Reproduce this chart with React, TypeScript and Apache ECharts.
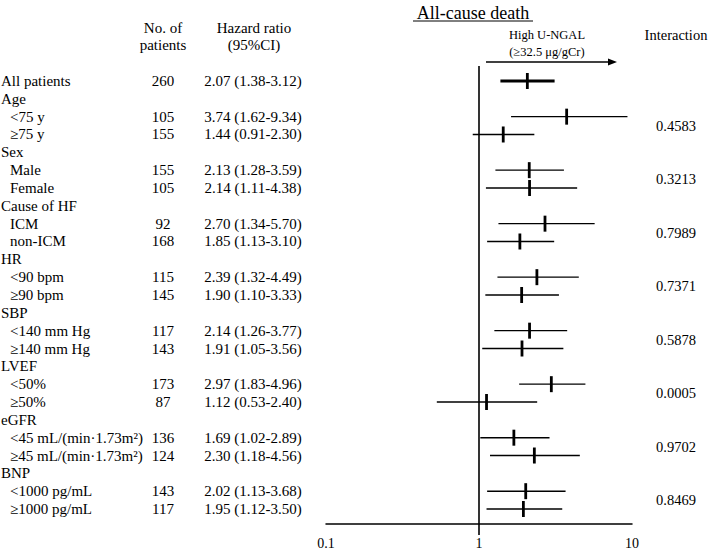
import React, { useEffect, useRef } from "react";
import * as echarts from "echarts";

const ROW_LABELS = [
  "All patients", "Age", "<75 y", "≥75 y", "Sex", "Male", "Female",
  "Cause of HF", "ICM", "non-ICM", "HR", "<90 bpm", "≥90 bpm",
  "SBP", "<140 mm Hg", "≥140 mm Hg", "LVEF", "<50%", "≥50%",
  "eGFR", "<45 mL/(min·1.73m²)", "≥45 mL/(min·1.73m²)",
  "BNP", "<1000 pg/mL", "≥1000 pg/mL",
];
const IS_SUB = [
  false, false, true, true, false, true, true, false, true, true, false, true, true,
  false, true, true, false, true, true, false, true, true, false, true, true,
];
const N_PATIENTS: (number | null)[] = [
  260, null, 105, 155, null, 155, 105, null, 92, 168, null, 115, 145,
  null, 117, 143, null, 173, 87, null, 136, 124, null, 143, 117,
];
const HR: (number | null)[] = [
  2.07, null, 3.74, 1.44, null, 2.13, 2.14, null, 2.70, 1.85, null, 2.39, 1.90,
  null, 2.14, 1.91, null, 2.97, 1.12, null, 1.69, 2.30, null, 2.02, 1.95,
];
const CI_LO: (number | null)[] = [
  1.38, null, 1.62, 0.91, null, 1.28, 1.11, null, 1.34, 1.13, null, 1.32, 1.10,
  null, 1.26, 1.05, null, 1.83, 0.53, null, 1.02, 1.18, null, 1.13, 1.12,
];
const CI_HI: (number | null)[] = [
  3.12, null, 9.34, 2.30, null, 3.59, 4.38, null, 5.70, 3.10, null, 4.49, 3.33,
  null, 3.77, 3.56, null, 4.96, 2.40, null, 2.89, 4.56, null, 3.68, 3.50,
];
const P_INTERACTION = ["0.4583", "0.3213", "0.7989", "0.7371", "0.5878", "0.0005", "0.9702", "0.8469"];
const P_FIRST_ROW = [2, 5, 8, 11, 14, 17, 20, 23];

const FONT = "'Liberation Serif', 'Times New Roman', Times, serif";

export default function App() {
  const ref = useRef<HTMLDivElement>(null);
  useEffect(() => {
    document.body.style.margin = "0";
    const chart = echarts.init(ref.current!, null, { renderer: "svg" });
    const yMin = -0.84;
    const yMax = 24.84;

    const rowRender = (params: any, api: any) => {
      const i = api.value(1) as number;
      const y = api.coord([1, i])[1];
      const children: any[] = [];
      children.push({
        type: "text",
        style: {
          text: ROW_LABELS[i], x: IS_SUB[i] ? 10 : 1, y,
          fill: "#000", fontSize: 15, fontFamily: FONT,
          align: "left", verticalAlign: "middle",
        },
      });
      const n = N_PATIENTS[i];
      if (n != null) {
        children.push({
          type: "text",
          style: {
            text: String(n), x: 163, y, fill: "#000", fontSize: 15,
            fontFamily: FONT, align: "center", verticalAlign: "middle",
          },
        });
      }
      const hr = HR[i], lo = CI_LO[i], hi = CI_HI[i];
      if (hr != null && lo != null && hi != null) {
        children.push({
          type: "text",
          style: {
            text: `${hr.toFixed(2)} (${lo.toFixed(2)}-${hi.toFixed(2)})`,
            x: 253, y, fill: "#000", fontSize: 15, fontFamily: FONT,
            align: "center", verticalAlign: "middle",
          },
        });
        const pLo = api.coord([lo, i]);
        const pHi = api.coord([hi, i]);
        const pHr = api.coord([hr, i]);
        const main = i === 0;
        children.push({
          type: "line",
          shape: { x1: pLo[0], y1: y, x2: pHi[0], y2: y },
          style: { stroke: "#000", lineWidth: main ? 3 : 1.4 },
        });
        children.push({
          type: "line",
          shape: { x1: pHr[0], y1: y - 8, x2: pHr[0], y2: y + 8 },
          style: { stroke: "#000", lineWidth: 2.8 },
        });
      }
      return { type: "group", children };
    };

    const refRender = (params: any, api: any) => {
      const x = api.coord([1, 0])[0];
      const cs = params.coordSys;
      return {
        type: "line",
        shape: { x1: x, y1: cs.y, x2: x, y2: cs.y + cs.height + 11 },
        style: { stroke: "#000", lineWidth: 1.6 },
      };
    };

    const pRender = (params: any, api: any) => {
      const k = params.dataIndex;
      const y = api.coord([1, api.value(1)])[1];
      return {
        type: "text",
        style: {
          text: P_INTERACTION[k], x: 676, y, fill: "#000", fontSize: 14.5,
          fontFamily: FONT, align: "center", verticalAlign: "middle",
        },
      };
    };

    const headText = (text: string, x: number, y: number, fontSize: number) => ({
      type: "text", x, y,
      style: { text, fill: "#000", fontSize, fontFamily: FONT, align: "center", verticalAlign: "middle" },
    });

    chart.setOption({
      animation: false,
      backgroundColor: "#fff",
      grid: { left: 326, right: 77, top: 66, bottom: 29, containLabel: false },
      xAxis: {
        type: "log",
        logBase: 10,
        min: 0.1,
        max: 10,
        axisLine: { show: true, onZero: false, lineStyle: { color: "#000", width: 1.5 } },
        axisTick: { show: false },
        splitLine: { show: false },
        axisLabel: { color: "#000", fontSize: 14, fontFamily: FONT, margin: 12 },
      },
      yAxis: {
        type: "value",
        inverse: true,
        min: yMin,
        max: yMax,
        show: false,
        splitLine: { show: false },
      },
      graphic: [
        headText("All-cause death", 473, 13, 18),
        { type: "line", shape: { x1: 413, y1: 21, x2: 533, y2: 21 }, style: { stroke: "#000", lineWidth: 1 } },
        headText("High U-NGAL", 547, 35, 12.5),
        headText("(≥32.5 μg/gCr)", 547, 52, 12.5),
        { type: "line", shape: { x1: 486, y1: 62, x2: 610, y2: 62 }, style: { stroke: "#000", lineWidth: 1.5 } },
        { type: "polygon", shape: { points: [[617, 62], [608, 58.5], [608, 65.5]] }, style: { fill: "#000" } },
        headText("Interaction", 676, 35, 14.5),
        headText("No. of", 163, 28, 15),
        headText("patients", 163, 45, 15),
        headText("Hazard ratio", 254, 28, 15),
        headText("(95%CI)", 254, 45, 15),
      ],
      series: [
        {
          type: "custom",
          clip: false,
          renderItem: refRender,
          data: [[1, 0]],
          silent: true,
        },
        {
          type: "custom",
          clip: false,
          renderItem: rowRender,
          data: ROW_LABELS.map((_, i) => [HR[i] ?? 1, i]),
          silent: true,
        },
        {
          type: "custom",
          clip: false,
          renderItem: pRender,
          data: P_FIRST_ROW.map((r) => [1, r + 0.5]),
          silent: true,
        },
      ],
    });
    return () => chart.dispose();
  }, []);
  return <div ref={ref} style={{ width: 709, height: 553 }} />;
}
